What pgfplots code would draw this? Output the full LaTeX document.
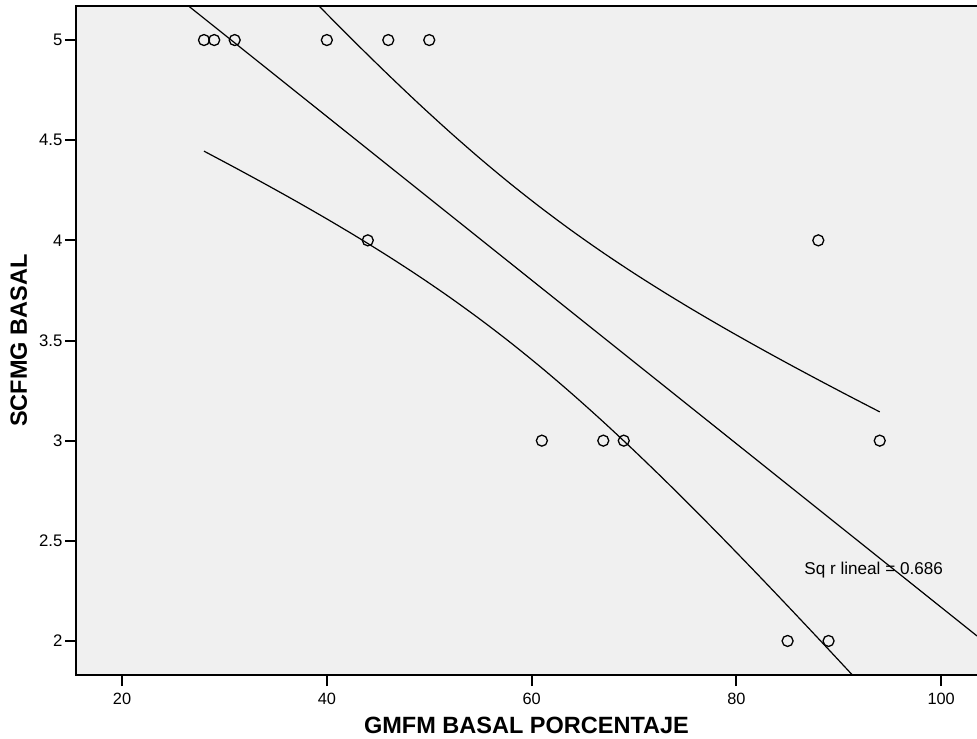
\documentclass[border=0pt]{standalone}
\usepackage{fontspec}
\setmainfont{Liberation Sans}
\usepackage{pgfplots}
\usepackage{pgfplotstable}
\pgfplotsset{compat=1.18}
\usetikzlibrary{calc}
\definecolor{panel}{HTML}{F0F0F0}

% observed cases
\pgfplotstableread{
x y
28 5
29 5
31 5
40 5
46 5
50 5
44 4
88 4
61 3
67 3
69 3
94 3
85 2
89 2
}\obs

% 95% confidence band of the mean
\pgfplotstableread{
x lo hi
28 4.4454 5.7721
31 4.3638 5.6085
34 4.2805 5.4468
37 4.1951 5.2872
40 4.1070 5.1302
43 4.0157 4.9764
46 3.9206 4.8265
49 3.8209 4.6811
52 3.7158 4.5411
55 3.6047 4.4071
58 3.4871 4.2797
61 3.3626 4.1592
64 3.2314 4.0453
67 3.0939 3.9377
70 2.9507 3.8358
73 2.8027 3.7388
76 2.6504 3.6460
79 2.4948 3.5566
82 2.3362 3.4701
85 2.1753 3.3859
88 2.0125 3.3037
91 1.8481 3.2230
94 1.6824 3.1437
}\band

\begin{document}
\begin{tikzpicture}
\begin{axis}[
  scale only axis,
  width=450.5bp, height=334.5bp,
  xmin=15.5, xmax=103.5, ymin=1.83, ymax=5.17,
  axis background/.style={fill=panel},
  axis line style={draw=none},
  tick align=outside, xtick pos=bottom, ytick pos=left,
  xtick={20,40,60,80,100},
  ytick={2,2.5,3,3.5,4,4.5,5},
  major tick length=5.5bp,
  tick style={black, line width=1bp},
  xticklabel style={font=\fontsize{8.2}{9}\selectfont},
  yticklabel style={font=\fontsize{8.4}{9}\selectfont, xshift=2.2bp},
  /pgf/number format/assume math mode=true,
  xlabel={GMFM BASAL PORCENTAJE},
  ylabel={SCFMG BASAL},
  label style={font=\bfseries\fontsize{11.8}{13}\selectfont},
  xlabel style={at={(axis description cs:0.5,-0.0867)}, anchor=base},
  ylabel style={at={(axis description cs:-0.0544,0.5)}, anchor=base},
]
\coordinate (ll) at (rel axis cs:0,0);
\coordinate (ur) at (rel axis cs:1,1);

\addplot[black, line width=0.6bp] coordinates {(15.5,5.619) (103.5,2.025)};
\addplot[black, line width=0.6bp, smooth] table[x=x, y=lo] {\band};
\addplot[black, line width=0.6bp, smooth] table[x=x, y=hi] {\band};
\addplot[only marks, mark=o, mark size=2.75bp, black, mark options={line width=0.65bp}] table[x=x, y=y] {\obs};

\node[anchor=base west, inner sep=0pt, font=\fontsize{8.6}{10}\selectfont] at (axis cs:86.6,2.334) {Sq r lineal = 0.686};
\end{axis}
% frame: left, top and bottom sides
\draw[black, line width=1bp] (ll -| ur) -- (ll) -- (ll |- ur) -- (ur);
\pgfresetboundingbox
\path ($(ll)+(-38bp,-31.5bp)$) rectangle ($(ur)+(0,3bp)$);
\end{tikzpicture}
\end{document}
